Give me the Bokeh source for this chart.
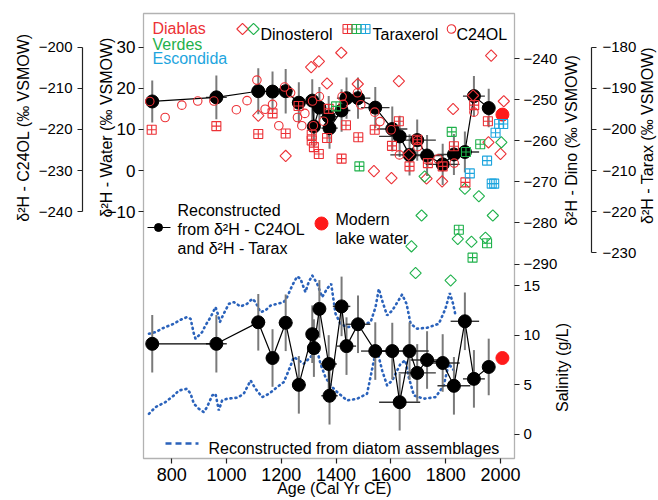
import numpy as np
from bokeh.plotting import figure
from bokeh.models import Range1d, LinearAxis, FixedTicker, Label, BoxAnnotation
from bokeh.embed import file_html
from bokeh.resources import INLINE

FONT = "Liberation Sans"
RED = "#ec3136"
GREEN = "#1fb14b"
BLUE = "#1ea5de"
DIAT = "#2a62bb"
BARGREY = "#7a7a7a"

# ---------------- data ----------------
ages = [729, 963, 1116, 1168, 1216, 1264, 1313, 1319, 1339, 1373, 1376, 1420, 1438,
        1480, 1543, 1605, 1632, 1668, 1696, 1732, 1789, 1830, 1870, 1903, 1957]
age_err = [12, 38, 25, 22, 25, 25, 20, 20, 22, 30, 30, 32, 35,
           45, 52, 55, 75, 70, 68, 60, 62, 60, 52, 40, 18]
water = [16.8, 17.8, 19.3, 19.2, 19.3, 16.5, 17.0, 10.7, 15.3, 13.1, 10.3, 14.6, 17.6,
         17.6, 15.3, 10.1, 8.3, 3.8, 7.4, 3.65, 1.5, 3.9, 4.5, 18.1, 15.2]
water_err = [5.1, 5.3, 5.6, 4.9, 5.4, 5.0, 5.2, 5.0, 5.0, 5.0, 5.0, 5.2, 5.0,
             5.0, 5.0, 5.5, 5.0, 5.0, 5.0, 5.0, 5.0, 5.0, 5.0, 4.9, 4.7]
salinity = [9.13, 9.13, 11.3, 7.7, 11.25, 5.0, 10.1, 8.7, 12.65, 7.1, 3.9, 12.9, 8.9,
            11.1, 8.4, 8.4, 3.25, 8.4, 6.2, 7.5, 7.2, 4.9, 11.4, 5.6, 6.8]
sal_err = [2.9, 2.9, 2.85, 2.9, 2.85, 2.9, 2.9, 2.9, 2.9, 2.9, 2.9, 3.0, 2.9,
           2.9, 2.9, 2.85, 2.85, 2.9, 2.9, 2.9, 2.9, 2.9, 2.9, 2.9, 2.85]
modern_age = [2007]
modern_water = [13.6]
modern_sal = [7.7]

c24_age = [720, 776, 837, 895, 954, 1036, 1075, 1111, 1141, 1168, 1191, 1212, 1234, 1259,
           1275, 1286, 1314, 1317, 1339, 1354, 1422, 1426, 1478, 1490, 1541, 1560, 1601,
           1631, 1697, 1698, 1772, 1831, 1903]
c24_val = [-213.2, -217.1, -214.1, -213.1, -213.1, -215.2, -213.0, -208.0, -215.1, -213.9,
           -219.1, -209.7, -211.1, -217.1, -219.1, -216.1, -213.1, -219.1, -212.0, -218.0,
           -212.0, -213.9, -211.1, -214.0, -215.8, -218.1, -220.1, -226.2, -222.7, -224.2,
           -227.2, -228.2, -215.8]

dino_diablas_age = [1116, 1216, 1309, 1337, 1367, 1419, 1479, 1538, 1602, 1629, 1665, 1730,
                    1787, 1827, 1900, 1956, 1966, 2000, 2012]
dino_diablas_val = [-253.9, -263.7, -242.1, -240.7, -246.1, -238.6, -246.2, -267.4, -269.1,
                    -245.5, -263.4, -269.2, -269.9, -252.3, -249.0, -260.4, -239.3, -263.2, -250.4]
dino_verdes_age = [1675, 1690, 1712, 1723, 1818, 1844, 1870, 1894, 1921, 1945, 1972, 2003]
dino_verdes_val = [-285.7, -292.2, -278.2, -268.7, -294.0, -283.9, -271.7, -284.6, -273.5,
                   -283.6, -278.2, -260.4]

tarax_diablas_age = [727, 963, 1116, 1168, 1216, 1263, 1311, 1311, 1319, 1337, 1367, 1373,
                     1420, 1436, 1481, 1541, 1604, 1629, 1668, 1696, 1735, 1789, 1830, 1872,
                     1904, 1954]
tarax_diablas_val = [-200.1, -199.2, -201.1, -196.1, -201.0, -194.3, -201.3, -202.7, -204.3,
                     -206.0, -202.1, -195.0, -207.1, -199.0, -201.9, -200.1, -204.0, -198.0,
                     -209.0, -202.5, -208.2, -209.0, -204.1, -212.9, -194.1, -198.0]
tarax_verdes_age = [1400, 1485, 1822, 1848, 1874, 1898, 1926, 1951]
tarax_verdes_val = [-194.4, -209.0, -200.6, -224.4, -205.5, -231.2, -203.6, -227.7]
tarax_escondida_age = [1888, 1951, 1968, 1977, 1982, 1995, 2010]
tarax_escondida_val = [-210.7, -207.6, -213.2, -213.2, -200.8, -198.7, -198.7]

diat_hi_age = [717, 741, 771, 808, 832, 856, 869, 881, 887, 899, 911, 923, 942, 960, 968,
               976, 984, 996, 1009, 1027, 1051, 1075, 1094, 1106, 1124, 1142, 1161, 1185,
               1209, 1221, 1240, 1258, 1270, 1288, 1300, 1313, 1331, 1349, 1367, 1382, 1398,
               1416, 1440, 1489, 1526, 1544, 1556, 1568, 1586, 1605, 1641, 1657, 1672, 1696,
               1732, 1775, 1799, 1815, 1827, 1836]
diat_hi_sal = [10.14, 10.31, 10.75, 11.15, 11.55, 11.82, 11.65, 10.14, 9.64, 9.97, 10.31,
               10.98, 11.82, 12.83, 12.16, 11.32, 11.82, 12.49, 13.16, 13.33, 12.89, 13.16,
               13.67, 13.33, 12.32, 12.49, 12.99, 13.16, 13.33, 13.83, 15.01, 15.92, 15.68,
               14.34, 15.35, 16.02, 15.18, 13.83, 14.67, 15.18, 12.16, 11.15, 10.81, 10.98,
               11.32, 12.83, 14.67, 13.50, 11.99, 12.49, 14.10, 13.16, 11.15, 10.65, 10.75,
               11.15, 12.66, 14.24, 13.16, 11.99]
diat_lo_age = [717, 741, 777, 808, 826, 856, 869, 881, 899, 917, 929, 948, 960, 972, 984,
               1002, 1039, 1063, 1088, 1106, 1130, 1155, 1185, 1209, 1227, 1246, 1264, 1282,
               1300, 1319, 1331, 1343, 1361, 1380, 1404, 1440, 1477, 1513, 1538, 1550, 1568,
               1586, 1605, 1635, 1653, 1665, 1684, 1720, 1763, 1793, 1811, 1830]
diat_lo_sal = [2.08, 2.76, 3.26, 3.93, 4.43, 4.60, 4.10, 3.09, 2.59, 2.25, 2.76, 3.93, 4.10,
               2.42, 3.43, 3.60, 3.70, 4.10, 5.44, 4.60, 3.76, 4.10, 4.77, 5.27, 6.45, 7.79,
               7.46, 7.12, 7.62, 8.13, 8.46, 7.12, 5.78, 4.94, 4.27, 3.43, 3.60, 4.10, 7.46,
               8.46, 6.45, 4.94, 5.44, 7.12, 7.46, 5.78, 3.93, 3.60, 3.76, 4.94, 7.12, 6.45]

x_ticks = [800, 1000, 1200, 1400, 1600, 1800, 2000]
water_ticks = [-10, 0, 10, 20, 30]
c24_ticks = [-240, -230, -220, -210, -200]
dino_ticks = [-290, -280, -270, -260, -250, -240]
tarax_ticks = [-230, -220, -210, -200, -190, -180]
sal_ticks = [0, 5, 10, 15]

# ---------------- layout / scales ----------------
W, H = 658, 500
BOX_L, BOX_R, BOX_T, BOX_B = 143, 514, 13, 458      # plotting box in pixels
X_BOX = (697.1, 2051.1)                               # years across the box
WATER_BOX = (-70.07, 38.2)                            # water d2H across the box
SAL_BOX = (-2.42, 42.40)                              # salinity across the box
C24_OFF, DINO_OFF, TARAX_OFF = -230.0, -267.25, -210.0

SX = (X_BOX[1] - X_BOX[0]) / (BOX_R - BOX_L)
SY = (WATER_BOX[1] - WATER_BOX[0]) / (BOX_B - BOX_T)
SS = (SAL_BOX[1] - SAL_BOX[0]) / (BOX_B - BOX_T)
X_FULL = (X_BOX[0] - BOX_L * SX, X_BOX[1] + (W - BOX_R) * SX)
WATER_FULL = (WATER_BOX[0] - (H - BOX_B) * SY, WATER_BOX[1] + BOX_T * SY)
SAL_FULL = (SAL_BOX[0] - (H - BOX_B) * SS, SAL_BOX[1] + BOX_T * SS)


def px_x(px):
    return X_FULL[0] + px * SX


def px_y(py):
    return WATER_FULL[1] - py * SY


def sal_to_dino(s):
    f = (s - SAL_FULL[0]) / (SAL_FULL[1] - SAL_FULL[0])
    lo, hi = WATER_FULL[0] + DINO_OFF, WATER_FULL[1] + DINO_OFF
    return round(lo + f * (hi - lo), 6)


def lab(v):
    return ("\u2212" if v < 0 else "") + str(abs(int(v)))


p = figure(width=W, height=H, x_range=Range1d(*X_FULL), y_range=Range1d(*WATER_FULL),
           output_backend="svg", toolbar_location=None, x_axis_location=None,
           y_axis_location=None, min_border=0, min_border_left=0, min_border_right=0,
           min_border_top=0, min_border_bottom=0)
p.extra_y_ranges = {
    "c24": Range1d(WATER_FULL[0] + C24_OFF, WATER_FULL[1] + C24_OFF),
    "dino": Range1d(WATER_FULL[0] + DINO_OFF, WATER_FULL[1] + DINO_OFF),
    "tarax": Range1d(WATER_FULL[0] + TARAX_OFF, WATER_FULL[1] + TARAX_OFF),
    "sal": Range1d(*SAL_FULL),
}
p.xgrid.visible = False
p.ygrid.visible = False
p.outline_line_color = None
p.background_fill_color = "white"
p.border_fill_color = "white"

p.add_layout(BoxAnnotation(left=px_x(BOX_L), right=px_x(BOX_R), top=px_y(BOX_T),
                           bottom=px_y(BOX_B), fill_color=None, fill_alpha=0,
                           line_color="black", line_width=1.3))


def make_axis(side, loc, ticks, size, standoff, bounds=None, range_name=None, line=True,
              overrides=None):
    kw = dict(fixed_location=loc, ticker=FixedTicker(ticks=ticks))
    if bounds is not None:
        kw["bounds"] = bounds
    if range_name is not None:
        kw["y_range_name"] = range_name
    ax = LinearAxis(**kw)
    ax.major_label_text_font = FONT
    ax.major_label_text_font_size = size
    ax.major_label_text_color = "black"
    ax.major_label_standoff = standoff
    ax.major_tick_in = 0
    ax.major_tick_out = 5
    ax.minor_tick_line_color = None
    ax.major_tick_line_color = "#222222"
    ax.major_tick_line_width = 1.2
    ax.axis_line_color = "#222222" if line else None
    ax.axis_line_width = 1.2
    ax.major_label_overrides = overrides if overrides is not None else {t: lab(t) for t in ticks}
    p.add_layout(ax, side)
    return ax


make_axis("below", px_y(BOX_B), x_ticks, "18px", 4, line=False,
          overrides={t: str(t) for t in x_ticks})
make_axis("left", px_x(BOX_L), water_ticks, "17px", 3, line=False)
make_axis("left", px_x(82), c24_ticks, "15px", 5, bounds=(-240, -200), range_name="c24")
sal_pos = [sal_to_dino(s) for s in sal_ticks]
ov = {t: lab(t) for t in dino_ticks}
for s_, pos in zip(sal_ticks, sal_pos):
    ov[pos] = str(s_)
make_axis("right", px_x(BOX_R), dino_ticks + sal_pos, "15px", 4, range_name="dino",
          line=False, overrides=ov)
make_axis("right", px_x(591), tarax_ticks, "15px", 6, bounds=(-230, -180),
          range_name="tarax")

# ---------------- diatom reconstruction (dotted) ----------------
for xs, ys in ((diat_hi_age, diat_hi_sal), (diat_lo_age, diat_lo_sal)):
    p.line(xs, ys, y_range_name="sal", line_color=DIAT, line_width=2.6,
           line_dash="1 4", line_cap="round")

# ---------------- error bars ----------------
a = np.array(ages, float)
ae = np.array(age_err, float)
w = np.array(water)
we = np.array(water_err)
s = np.array(salinity)
se = np.array(sal_err)

p.segment(a, w - we, a, w + we, line_color=BARGREY, line_width=2)
p.segment(a, s - se, a, s + se, line_color=BARGREY, line_width=2, y_range_name="sal")
p.segment(a - ae, w, a + ae, w, line_color="#333333", line_width=1.4)
p.segment(a - ae, s, a + ae, s, line_color="#333333", line_width=1.4, y_range_name="sal")

# ---------------- reconstructed series ----------------
p.line(ages, water, line_color="black", line_width=1.2)
p.scatter(ages, water, size=13, fill_color="black", line_color="black")
p.line(ages, salinity, line_color="black", line_width=1.2, y_range_name="sal")
p.scatter(ages, salinity, size=13, fill_color="black", line_color="black", y_range_name="sal")

p.scatter(modern_age, modern_water, size=13, fill_color="#ff1a1a", line_color="#ff1a1a")
p.scatter(modern_age, modern_sal, size=13, fill_color="#ff1a1a", line_color="#ff1a1a",
          y_range_name="sal")

# ---------------- biomarker measurements ----------------
p.scatter(c24_age, c24_val, y_range_name="c24", marker="circle", size=8.5,
          fill_color=None, line_color=RED, line_width=1.1)
p.scatter(dino_diablas_age, dino_diablas_val, y_range_name="dino", marker="square",
          angle=np.pi / 4, size=8, fill_color=None, line_color=RED, line_width=1.1)
p.scatter(dino_verdes_age, dino_verdes_val, y_range_name="dino", marker="square",
          angle=np.pi / 4, size=8, fill_color=None, line_color=GREEN, line_width=1.1)
for xs, ys, col in ((tarax_diablas_age, tarax_diablas_val, RED),
                    (tarax_verdes_age, tarax_verdes_val, GREEN),
                    (tarax_escondida_age, tarax_escondida_val, BLUE)):
    p.scatter(xs, ys, y_range_name="tarax", marker="square_cross", size=9,
              fill_color=None, line_color=col, line_width=1.1)

# ---------------- legend keys ----------------
ky = px_y(28.5)
p.scatter([px_x(242)], [ky], marker="square", angle=np.pi / 4, size=8, fill_color=None,
          line_color=RED, line_width=1.1)
p.scatter([px_x(253)], [ky], marker="square", angle=np.pi / 4, size=8, fill_color=None,
          line_color=GREEN, line_width=1.1)
for xp, col in ((347, RED), (356, GREEN), (365, BLUE)):
    p.scatter([px_x(xp)], [ky], marker="square_cross", size=9, fill_color=None,
              line_color=col, line_width=1.1)
p.scatter([px_x(451)], [ky], marker="circle", size=8.5, fill_color=None,
          line_color=RED, line_width=1.1)

p.line([px_x(147), px_x(170)], [px_y(227)] * 2, line_color="black", line_width=1.2)
p.scatter([px_x(158)], [px_y(227)], size=8, fill_color="black", line_color="black")
p.scatter([px_x(321)], [px_y(223)], size=13, fill_color="#ff1a1a", line_color="#ff1a1a")
p.line([px_x(165), px_x(198)], [px_y(443)] * 2, line_color=DIAT, line_width=2.5,
       line_dash="6 4")

# ---------------- texts ----------------
texts = [
    ("Diablas", 152, 28, RED),
    ("Verdes", 152, 43.5, GREEN),
    ("Escondida", 152, 57.5, BLUE),
    ("Dinosterol", 260, 33.5, "black"),
    ("Taraxerol", 372, 33.5, "black"),
    ("C24OL", 456, 33.5, "black"),
    ("Reconstructed", 177, 210, "black"),
    ("from \u03b4\u00b2H - C24OL", 177, 229, "black"),
    ("and \u03b4\u00b2H - Tarax", 177, 248, "black"),
    ("Modern", 335, 219, "black"),
    ("lake water", 335, 238, "black"),
    ("Reconstructed from diatom assemblages", 208, 448, "black"),
]
for t, xp, yp, col in texts:
    p.add_layout(Label(x=px_x(xp), y=px_y(yp), text=t, text_font=FONT, text_font_size="16px",
                       text_color=col, text_align="left", text_baseline="alphabetic"))

p.add_layout(Label(x=px_x(334), y=px_y(488), text="Age (Cal Yr CE)", text_font=FONT,
                   text_font_size="16px", text_color="black", text_align="center",
                   text_baseline="alphabetic"))

vlabels = [
    ("\u03b4\u00b2H - C24OL (\u2030 VSMOW)", 23, 127),
    ("\u03b4\u00b2H - Water (\u2030 VSMOW)", 106, 127),
    ("\u03b4\u00b2H - Dino (\u2030 VSMOW)", 571, 140),
    ("Salinity (g/L)", 562, 367),
    ("\u03b4\u00b2H - Tarax (\u2030 VSMOW)", 647, 135),
]
for t, xp, yp in vlabels:
    p.add_layout(Label(x=px_x(xp), y=px_y(yp), text=t, text_font=FONT, text_font_size="16px",
                       text_color="black", angle=np.pi / 2, text_align="center",
                       text_baseline="middle"))

open("out.html", "w").write(file_html(p, INLINE))
